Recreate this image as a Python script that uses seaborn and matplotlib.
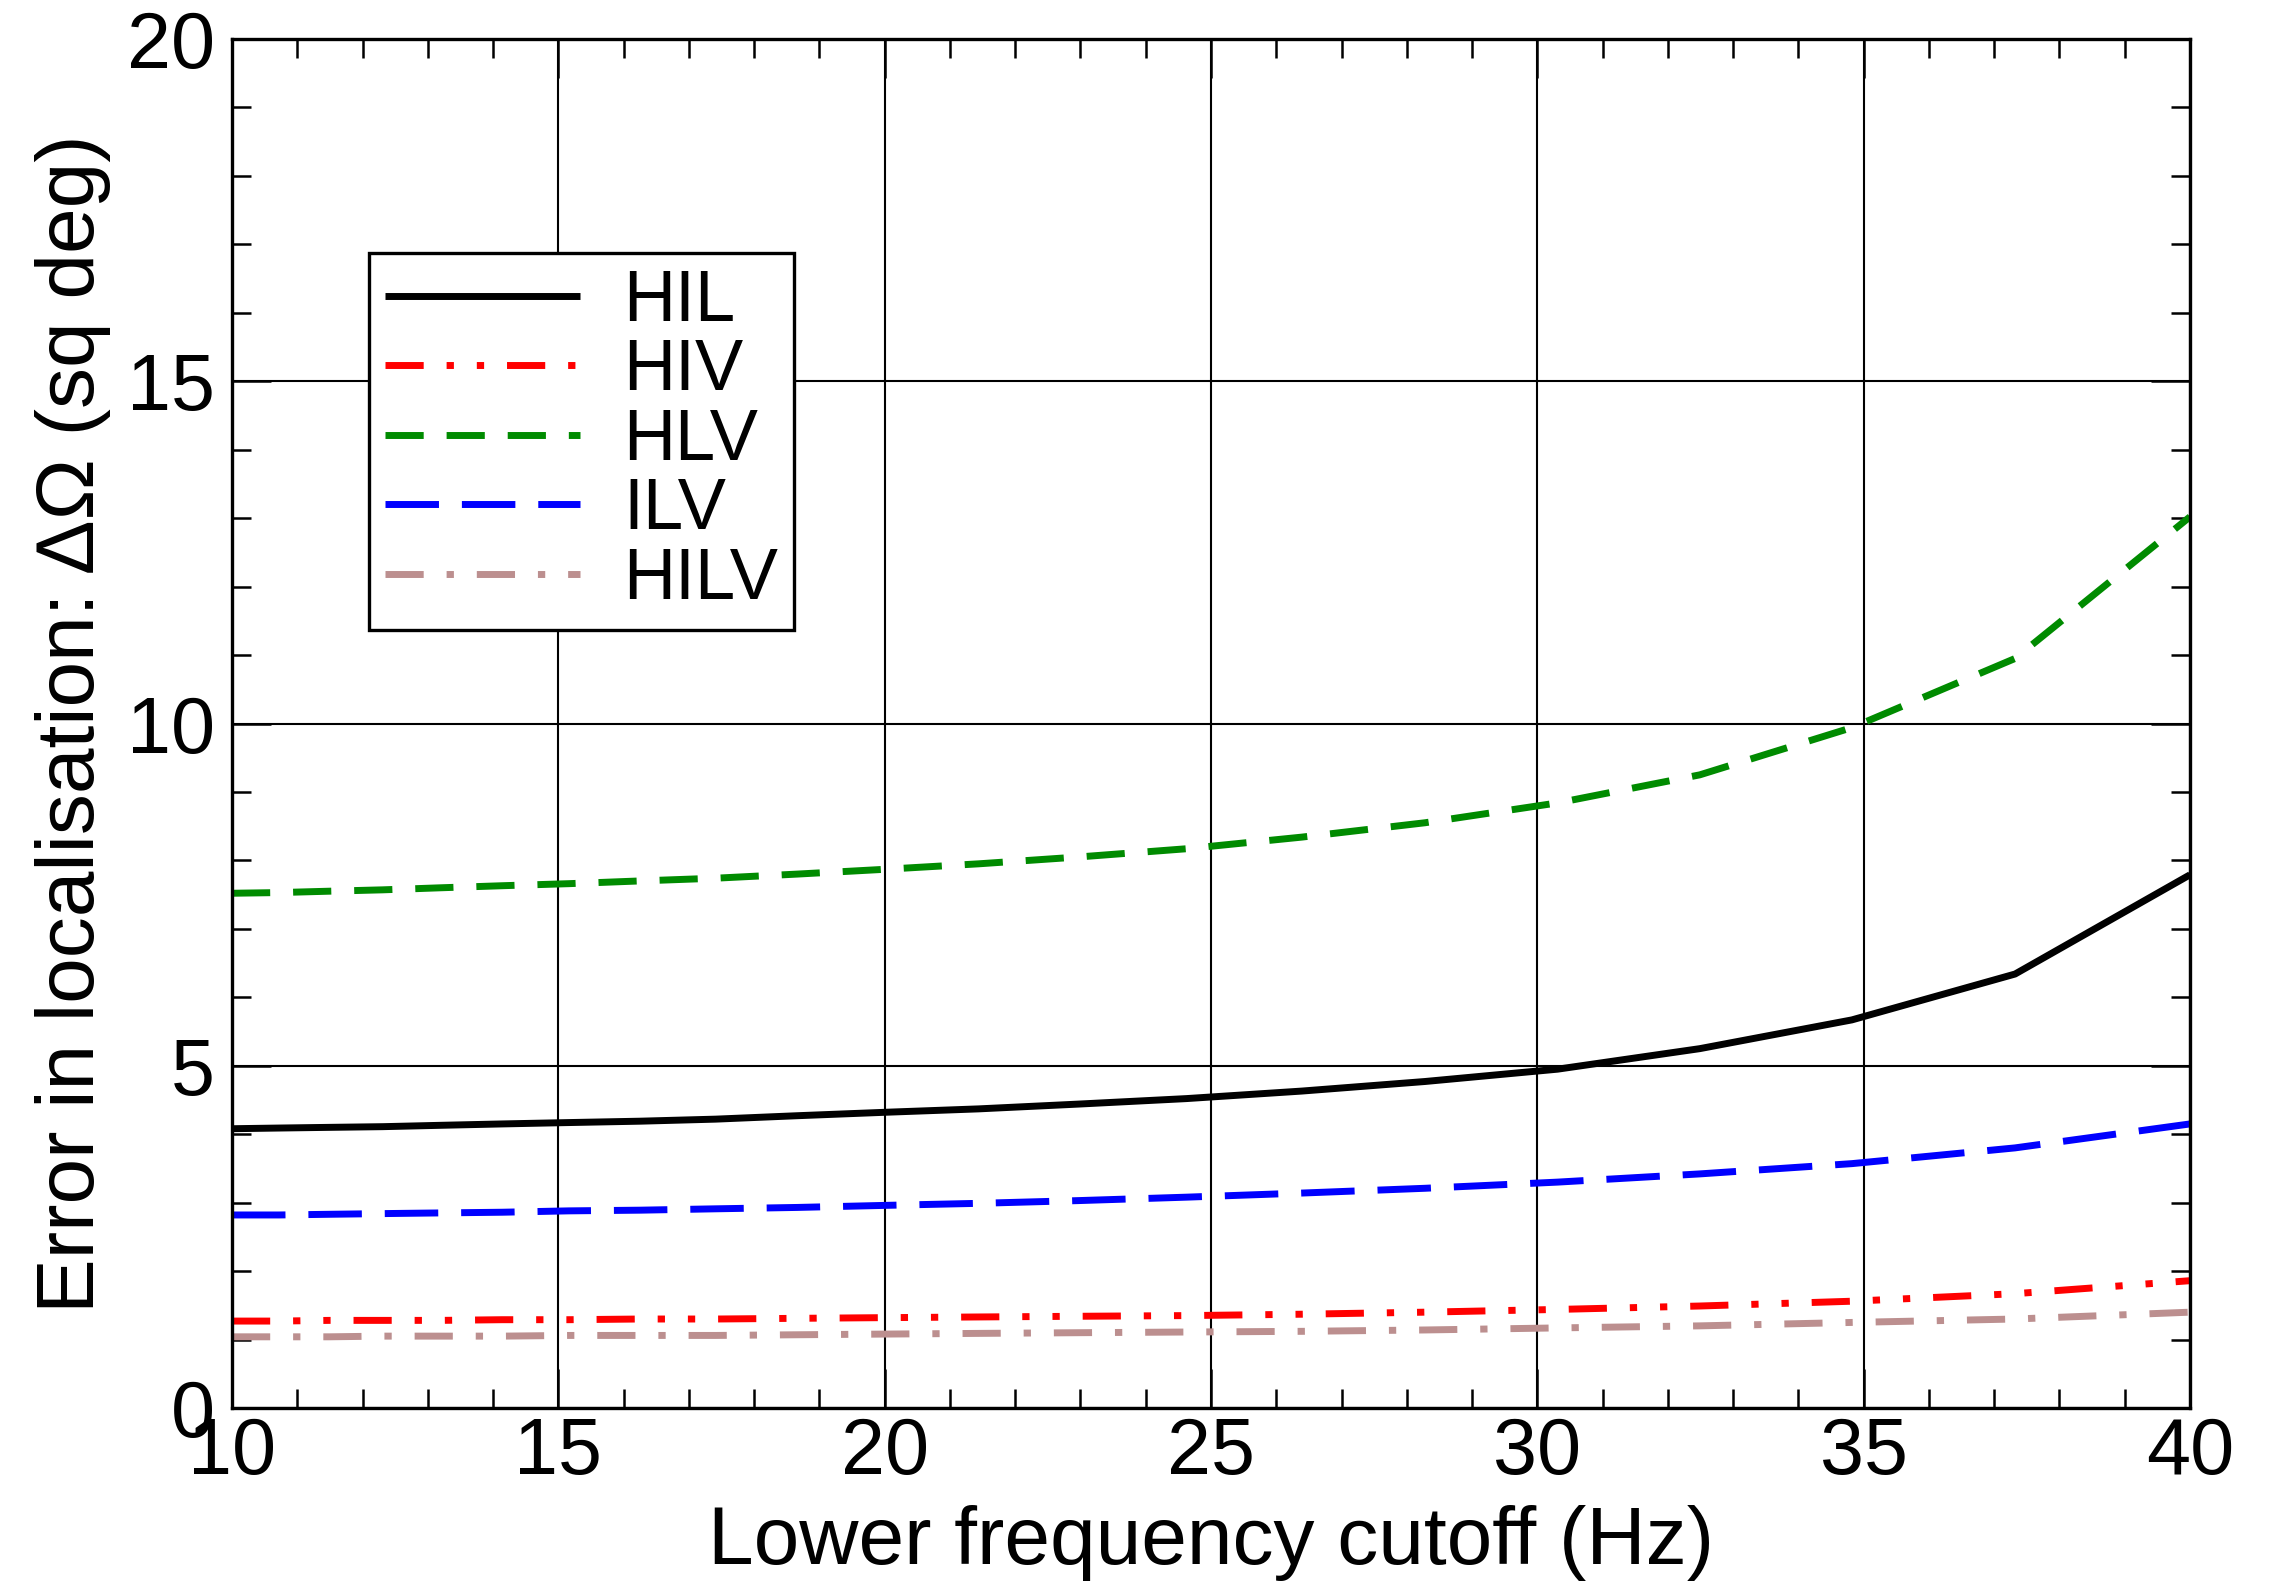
import matplotlib
matplotlib.use("Agg")
import matplotlib.pyplot as plt
import seaborn as sns
import pandas as pd
from matplotlib.ticker import MultipleLocator

freq = [10.0, 10.72, 11.49, 12.31, 13.2, 14.14, 15.16, 16.25, 17.41, 18.66, 20.0,
        21.44, 22.97, 24.62, 26.39, 28.28, 30.31, 32.49, 34.82, 37.32, 40.0]

hil = [4.08, 4.09, 4.10, 4.11, 4.13, 4.15, 4.17, 4.19, 4.22, 4.27, 4.32,
       4.37, 4.44, 4.52, 4.63, 4.77, 4.95, 5.25, 5.67, 6.34, 7.79]
hiv = [1.27, 1.27, 1.28, 1.28, 1.28, 1.29, 1.29, 1.30, 1.30, 1.31, 1.32,
       1.33, 1.34, 1.35, 1.37, 1.40, 1.44, 1.49, 1.56, 1.67, 1.86]
hlv = [7.52, 7.53, 7.55, 7.57, 7.60, 7.63, 7.66, 7.70, 7.74, 7.80, 7.87,
       7.95, 8.05, 8.17, 8.34, 8.55, 8.84, 9.25, 9.94, 10.95, 13.02]
ilv = [2.82, 2.82, 2.83, 2.84, 2.85, 2.86, 2.88, 2.89, 2.91, 2.93, 2.96,
       2.99, 3.03, 3.08, 3.14, 3.21, 3.30, 3.42, 3.57, 3.80, 4.15]
hilv = [1.04, 1.04, 1.04, 1.05, 1.05, 1.05, 1.06, 1.06, 1.06, 1.07, 1.08,
        1.09, 1.10, 1.11, 1.12, 1.14, 1.17, 1.20, 1.25, 1.30, 1.40]

labels = ["HIL", "HIV", "HLV", "ILV", "HILV"]
series = [hil, hiv, hlv, ilv, hilv]
colors = ["#000000", "#ff0000", "#008b00", "#0000ff", "#bc8f8f"]
dash_styles = [None,
               (5.5, 3.3, 1.05, 3.3, 1.05, 3.3),
               (5.5, 3.3),
               (7.7, 3.3),
               (5.5, 3.3, 1.05, 3.3)]

sns.set_theme(style="white")
plt.rcParams['font.family'] = ['Liberation Sans', 'DejaVu Sans']
plt.rcParams['mathtext.fontset'] = 'custom'
plt.rcParams['mathtext.rm'] = 'Liberation Sans'
for k in ['text.color', 'axes.labelcolor', 'xtick.color', 'ytick.color', 'axes.edgecolor']:
    plt.rcParams[k] = 'black'

fig = plt.figure(figsize=(22.69, 15.88), dpi=100)
ax = fig.add_axes([232/2269, 1 - 1408/1588, (2190-232)/2269, (1408-39)/1588])

lw = 5.0
for lab, vals, col, ds in zip(labels, series, colors, dash_styles):
    df = pd.DataFrame({"freq": freq, "err": vals})
    sns.lineplot(data=df, x="freq", y="err", color=col, linewidth=lw, ax=ax, label=lab)
    line = ax.lines[-1]
    line.set_solid_capstyle('butt')
    if ds is not None:
        line.set_dashes(ds)

ax.set_xlim(10, 40)
ax.set_ylim(0, 20)
ax.xaxis.set_major_locator(MultipleLocator(5))
ax.xaxis.set_minor_locator(MultipleLocator(1))
ax.yaxis.set_major_locator(MultipleLocator(5))
ax.yaxis.set_minor_locator(MultipleLocator(1))
ax.grid(True, which='major', color='black', linewidth=1.5)
ax.set_axisbelow(True)
ax.tick_params(which='both', direction='in', top=True, right=True, bottom=True, left=True,
               color='black', width=1.8, labelcolor='black')
ax.tick_params(which='major', length=28, labelsize=57, pad=6)
ax.tick_params(which='minor', length=14)
ax.tick_params(axis='y', which='major', pad=12)
for sp in ax.spines.values():
    sp.set_color('black')
    sp.set_linewidth(2.4)

ax.set_xlabel("Lower frequency cutoff (Hz)", fontsize=59, labelpad=10, color='black')
ax.set_ylabel("Error in localisation: \u0394\u03a9 (sq deg)", fontsize=59, labelpad=12, color='black')

leg = ax.legend(loc='upper left', bbox_to_anchor=((369-232)/1958, (1408-253)/1369),
                borderaxespad=0, fontsize=52, handlelength=2.7, handletextpad=0.6,
                borderpad=0.22, labelspacing=0.035, fancybox=False, framealpha=1,
                edgecolor='black')
leg.get_frame().set_linewidth(2.4)
for t in leg.get_texts():
    t.set_color('black')

fig.savefig("out.png", dpi=100)
